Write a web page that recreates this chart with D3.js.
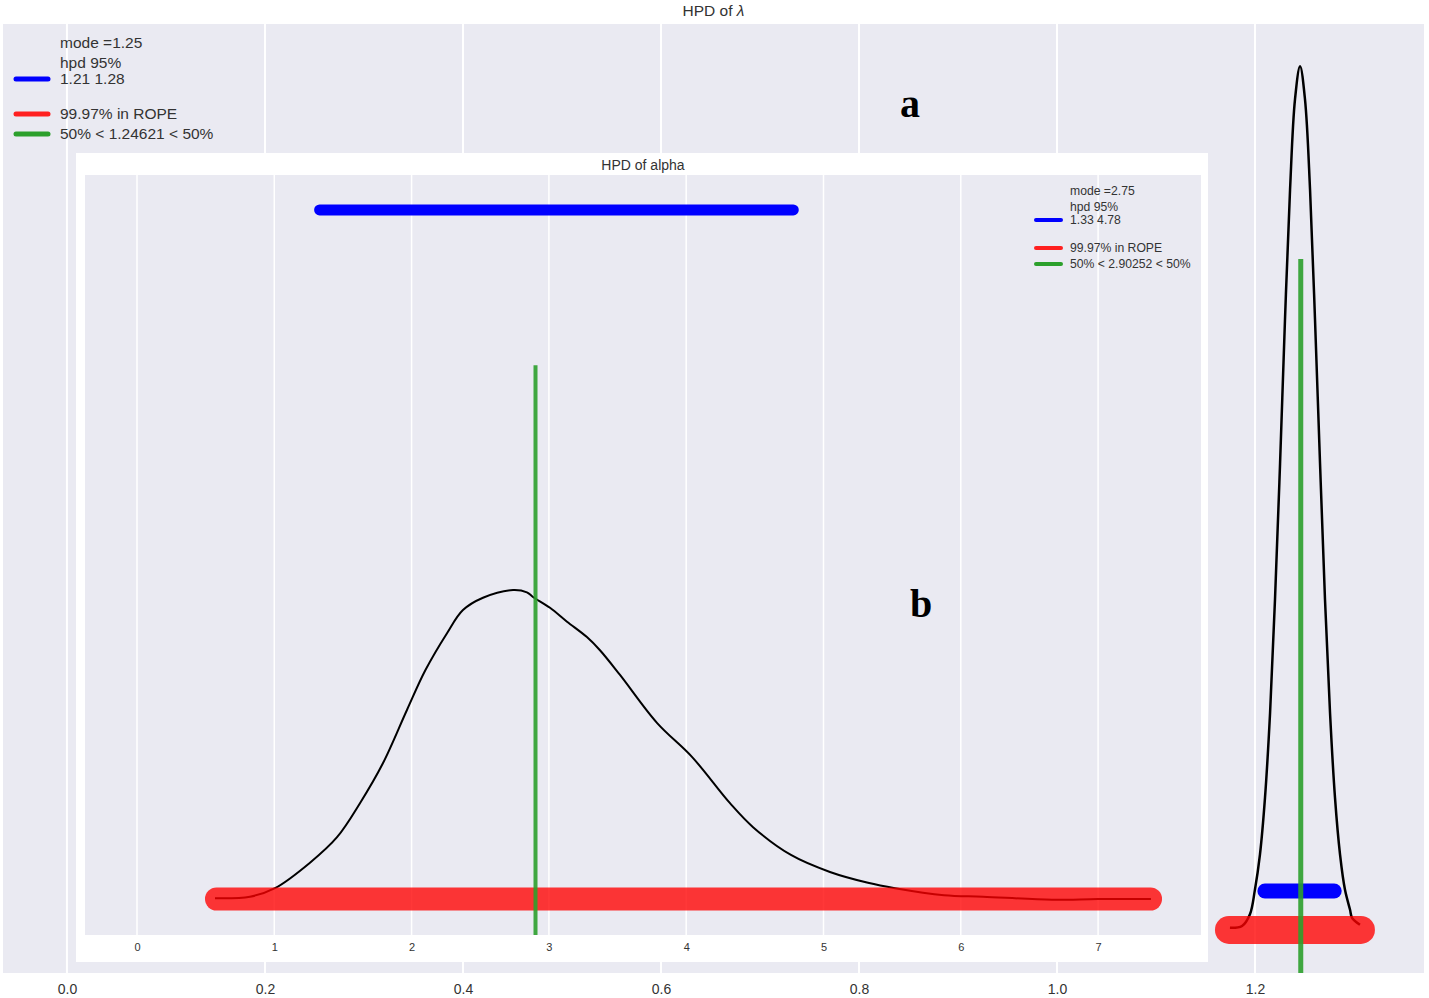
<!DOCTYPE html>
<html>
<head>
<meta charset="utf-8">
<script src="https://cdnjs.cloudflare.com/ajax/libs/d3/7.8.5/d3.min.js"></script>
<style>
body{margin:0;background:#fff;}
text{font-family:"Liberation Sans",Arial,sans-serif;fill:#333;}
</style>
</head>
<body>
<svg id="chart" width="1429" height="998"></svg>
<script>
//// posterior of lambda (big plot, "a")
var lambdaX=[1.1747,1.1869,1.1949,1.1999,1.2050,1.2101,1.2152,1.2202,1.2253,1.2303,1.2354,1.2404,1.2455,
	1.2505,1.2556,1.2606,1.2657,1.2707,1.2758,1.2808,1.2859,1.2909,1.2960,1.2980,1.3060];
var lambdaDens=[0.0,0.06,0.45,1.26,2.43,4.32,7.12,10.9,15.4,20.2,24.5,27.5,28.6,
	27.5,24.5,20.2,15.4,10.9,7.12,4.32,2.43,1.26,0.6,0.33,0.1];
var lambdaTicks=[0.0,0.2,0.4,0.6,0.8,1.0,1.2];
var lambdaHpd=[1.21,1.28];
var lambdaRope=[1.1737,1.307];
var lambdaMedian=1.24621;
var lambdaLegend=["mode =1.25","hpd 95%","1.21 1.28","99.97% in ROPE","50% < 1.24621 < 50%"];

//// posterior of alpha (inset, "b")
var alphaX=[0.568,0.823,1.005,1.260,1.457,1.624,1.792,1.967,2.100,2.258,2.374,2.520,2.739,2.840,2.884,
	3.008,3.132,3.277,3.372,3.518,3.787,4.042,4.319,4.487,4.763,5.047,5.324,5.521,5.878,6.162,6.664,6.999,7.385];
var alphaDens=[0.001,0.003,0.014,0.047,0.080,0.124,0.176,0.245,0.296,0.344,0.374,0.390,0.400,0.397,0.391,
	0.377,0.359,0.339,0.322,0.290,0.228,0.184,0.124,0.093,0.057,0.035,0.021,0.014,0.005,0.003,-0.001,0.000,0.000];
var alphaTicks=[0,1,2,3,4,5,6,7];
var alphaHpd=[1.33,4.78];
var alphaRope=[0.579,7.382];
var alphaMedian=2.90252;
var alphaLegend=["mode =2.75","hpd 95%","1.33 4.78","99.97% in ROPE","50% < 2.90252 < 50%"];

var bg="#eaeaf2";
var svg=d3.select("#chart");

//draws one posterior panel; cfg holds the scales and line sizes. returns the title node
function plotPosterior(g,cfg){
	var x=cfg.x, y=cfg.y;
	var x0=x.range()[0], x1=x.range()[1], y0=y.range()[1], y1=y.range()[0];

	g.append("rect")
		.attr("x",x0).attr("y",y0)
		.attr("width",x1-x0).attr("height",y1-y0)
		.style("fill",bg);

	//vertical grid only (yticks are off)
	g.selectAll(".grid").data(cfg.ticks).enter().append("line")
		.attr("class","grid")
		.attr("x1",function(d){return x(d);}).attr("x2",function(d){return x(d);})
		.attr("y1",y0).attr("y2",y1)
		.style("stroke","#fff").style("stroke-width",cfg.gridW);

	var axis=d3.axisBottom(x).tickValues(cfg.ticks).tickSize(0).tickPadding(cfg.tickPad).tickFormat(cfg.fmt);
	var ax=g.append("g").attr("transform","translate(0,"+y1+")").call(axis);
	ax.select(".domain").remove();
	ax.selectAll("text").style("font-family","Liberation Sans, Arial, sans-serif")
		.style("font-size",cfg.tickSize+"px").style("fill","#333");

	var pts=cfg.xs.map(function(v,i){return [v,cfg.ds[i]];});
	var line=d3.line().x(function(d){return x(d[0]);}).y(function(d){return y(d[1]);}).curve(d3.curveCatmullRom.alpha(0.5));
	g.append("path").datum(pts)
		.attr("d",line)
		.style("fill","none").style("stroke","#000").style("stroke-width",cfg.kdeW);

	//hpd bar
	g.append("line")
		.attr("x1",x(cfg.hpd[0])).attr("x2",x(cfg.hpd[1]))
		.attr("y1",y(cfg.hpdY)).attr("y2",y(cfg.hpdY))
		.style("stroke","#0000ff").style("stroke-width",cfg.hpdW).style("stroke-linecap","round");
	//rope bar, transparent red
	g.append("line")
		.attr("x1",x(cfg.rope[0])).attr("x2",x(cfg.rope[1]))
		.attr("y1",y(cfg.ropeY)).attr("y2",y(cfg.ropeY))
		.style("stroke","rgba(255,0,0,0.78)").style("stroke-width",cfg.ropeW).style("stroke-linecap","round");
	//median line
	g.append("line")
		.attr("x1",x(cfg.median)).attr("x2",x(cfg.median))
		.attr("y1",y(cfg.medTop)).attr("y2",y1)
		.style("stroke","#2ca02c").style("stroke-opacity",0.9).style("stroke-width",cfg.medW);

	//legend, no frame
	var lg=cfg.legend;
	var rows=[
		{t:cfg.labels[0],y:lg.ys[0]},
		{t:cfg.labels[1],y:lg.ys[1]},
		{t:cfg.labels[2],y:lg.ys[2],c:"#0000ff"},
		{t:cfg.labels[3],y:lg.ys[3],c:"#ff2020"},
		{t:cfg.labels[4],y:lg.ys[4],c:"#2ca02c"}
	];
	rows.forEach(function(r){
		if(r.c){
			g.append("line")
				.attr("x1",lg.lx[0]).attr("x2",lg.lx[1])
				.attr("y1",r.y).attr("y2",r.y)
				.style("stroke",r.c).style("stroke-width",lg.w).style("stroke-linecap","round");
		}
		g.append("text")
			.attr("x",lg.tx).attr("y",r.y)
			.attr("dy","0.35em")
			.style("font-size",lg.size+"px")
			.text(r.t);
	});

	return g.append("text")
		.attr("x",(x0+x1)/2).attr("y",cfg.titleY)
		.attr("dy","0.35em")
		.attr("text-anchor","middle")
		.style("font-size",cfg.titleSize+"px")
		.text(cfg.title);
}

/////outer plot
var outer=svg.append("g");
var outerTitle=plotPosterior(outer,{
	x:d3.scaleLinear().domain([-0.0646,1.3707]).range([3,1424]),
	y:d3.scaleLinear().domain([-1.5,30]).range([973,24]),
	ticks:lambdaTicks, fmt:d3.format(".1f"), tickPad:11, tickSize:14,
	xs:lambdaX, ds:lambdaDens, kdeW:2.5,
	hpd:lambdaHpd, hpdY:1.22, hpdW:15,
	rope:lambdaRope, ropeY:-0.07, ropeW:28,
	median:lambdaMedian, medTop:22.2, medW:5,
	gridW:2,
	labels:lambdaLegend,
	legend:{ys:[43,63,79,114,134], lx:[16,48], tx:60, w:5, size:15.5},
	title:"HPD of ", titleY:11, titleSize:15.5
});
//lambda symbol in the title
outerTitle.append("tspan").style("font-style","italic").text("λ");

/////inset box with alpha posterior
var inset=svg.append("g");
inset.append("rect")
	.attr("x",76).attr("y",153).attr("width",1132).attr("height",809)
	.style("fill","#fff");
plotPosterior(inset,{
	x:d3.scaleLinear().domain([-0.3787,7.7495]).range([85,1201]),
	y:d3.scaleLinear().domain([-0.0466,0.9372]).range([935,175]),
	ticks:alphaTicks, fmt:d3.format("d"), tickPad:8, tickSize:11,
	xs:alphaX, ds:alphaDens, kdeW:2,
	hpd:alphaHpd, hpdY:0.892, hpdW:11,
	rope:alphaRope, ropeY:0, ropeW:23,
	median:alphaMedian, medTop:0.691, medW:4,
	gridW:1.5,
	labels:alphaLegend,
	legend:{ys:[191,207,220,248,264], lx:[1036,1061], tx:1070, w:4, size:12.2},
	title:"HPD of alpha", titleY:165, titleSize:14
});

//panel letters
svg.append("text").attr("x",910).attr("y",117).attr("text-anchor","middle")
	.style("font-family","Liberation Serif, Times New Roman, serif").style("font-weight","bold")
	.style("font-size","40px").style("fill","#000").text("a");
svg.append("text").attr("x",921).attr("y",617).attr("text-anchor","middle")
	.style("font-family","Liberation Serif, Times New Roman, serif").style("font-weight","bold")
	.style("font-size","40px").style("fill","#000").text("b");
</script>
</body>
</html>
